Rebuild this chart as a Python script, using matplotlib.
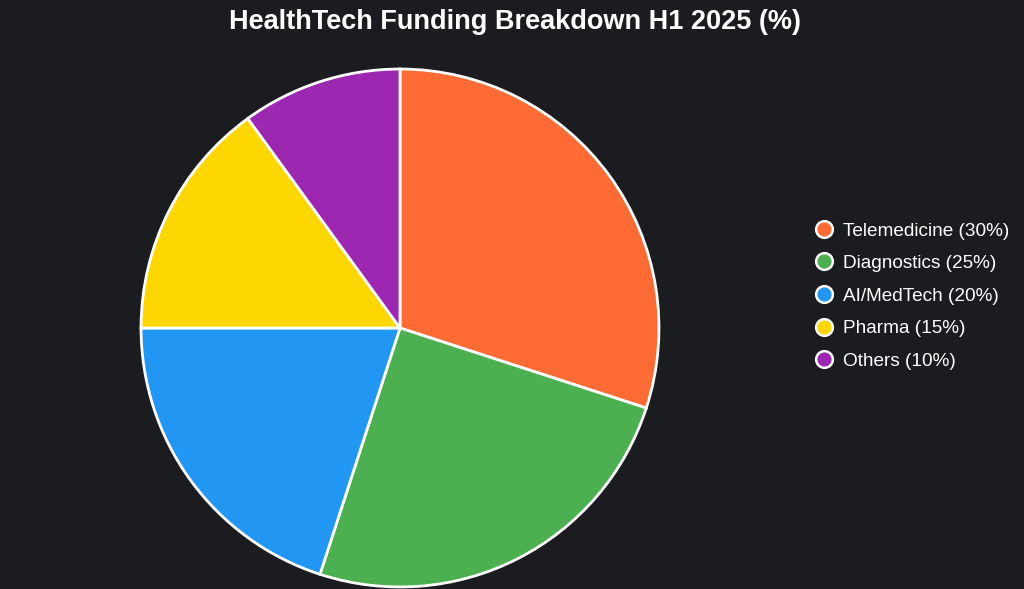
import matplotlib.pyplot as plt
from matplotlib.lines import Line2D

plt.rcParams['font.family'] = ['Liberation Sans', 'DejaVu Sans']

# Dati
categorie = ['Telemedicine', 'Diagnostics', 'AI/MedTech', 'Pharma', 'Others']
valori = [30, 25, 20, 15, 10]
colori = ['#FF6B35', '#4CAF50', '#2196F3', '#FFD700', '#9C27B0']
sfondo = '#1b1c20'

W, H = 1024, 589
fig = plt.figure(figsize=(W / 100, H / 100), dpi=100, facecolor=sfondo)

# Torta: centro (400, 328), raggio 260 px
cx, cy, r = 400, 328, 260
ax = fig.add_axes([(cx - r) / W, (H - cy - r) / H, 2 * r / W, 2 * r / H])
ax.set_facecolor(sfondo)
ax.pie(valori, colors=colori, startangle=90, counterclock=False,
       radius=1, wedgeprops=dict(edgecolor='white', linewidth=2))
ax.set_xlim(-1.004, 1.004)
ax.set_ylim(-1.004, 1.004)
ax.set_aspect('equal')
ax.axis('off')

fig.text(515 / W, 1 - 22 / H, 'HealthTech Funding Breakdown H1 2025 (%)',
         ha='center', va='center', color='white', fontsize=19.5, fontweight='bold')

# Legenda
maniglie = [Line2D([], [], linestyle='none', marker='o', markersize=12,
                   markerfacecolor=c, markeredgecolor='white', markeredgewidth=1.8)
            for c in colori]
etichette = [f'{n} ({v}%)' for n, v in zip(categorie, valori)]
leg = fig.legend(maniglie, etichette, loc='center left',
                 bbox_to_anchor=(808 / W, 1 - 296 / H), frameon=False,
                 fontsize=13.7, labelcolor='white', handlelength=0.9,
                 handletextpad=0.55, labelspacing=0.8, borderaxespad=0)

fig.savefig('out.png', dpi=100, facecolor=sfondo)
